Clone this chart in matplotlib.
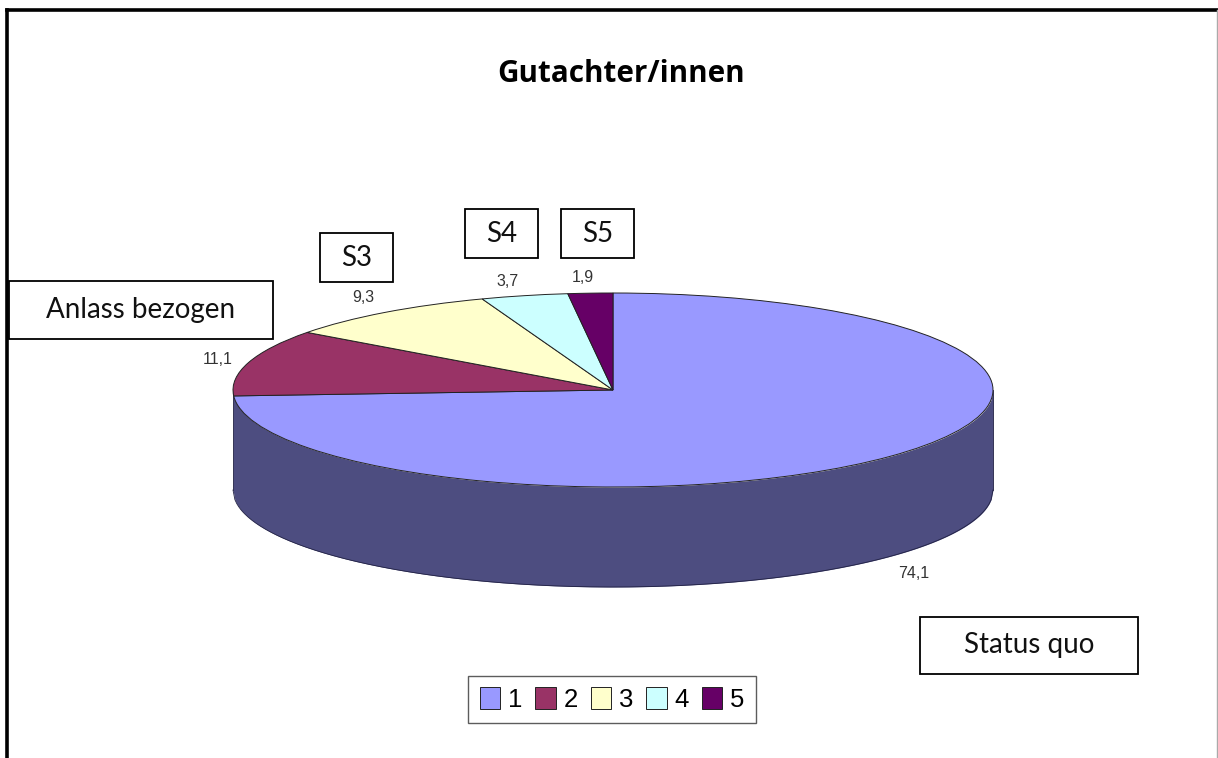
import matplotlib
matplotlib.use("Agg")
import matplotlib.pyplot as plt
from matplotlib.patches import Rectangle
import numpy as np

W, H = 1218, 758

title = "Gutachter/innen"
categories = ["1", "2", "3", "4", "5"]
values = [74.1, 11.1, 9.3, 3.7, 1.9]
value_labels = ["74,1", "11,1", "9,3", "3,7", "1,9"]
colors = ["#9999FF", "#993366", "#FFFFCC", "#CCFFFF", "#660066"]
wall_color = "#4D4D80"
callouts = ["Status quo", "Anlass bezogen", "S3", "S4", "S5"]

# pixel layout of the flattened pie
cx, cy, rx, ry, depth = 613, 390, 380, 97, 100
label_pos = [(914, 573), (218, 359), (363, 297), (508, 281), (583, 277)]
callout_box = [(920, 617, 218, 57), (9, 281, 264, 58), (320, 233, 73, 49),
               (465, 209, 73, 49), (561, 209, 73, 49)]

fig = plt.figure(figsize=(W / 100, H / 100), dpi=100)

# pie axes, one unit is one radius, so the circle comes out as an ellipse
ax = fig.add_axes([0, 0, 1, 1])
x = np.linspace(-1, 1, 400)
top = -np.sqrt(1 - x ** 2)
ax.fill_between(x, top, top - depth / ry, color=wall_color, lw=0, zorder=1)
ax.plot(x, top - depth / ry, color="#222244", lw=0.6, zorder=2)
ax.plot([-1, -1], [0, -depth / ry], color="#222244", lw=0.6, zorder=2)
ax.plot([1, 1], [0, -depth / ry], color="#222244", lw=0.6, zorder=2)
wedges, _ = ax.pie(values, colors=colors, startangle=90, counterclock=False,
                   radius=1, frame=True, normalize=True,
                   wedgeprops={"edgecolor": "#222222", "linewidth": 0.7, "zorder": 3})
ax.set_aspect("auto")
ax.set_xlim(-cx / rx, (W - cx) / rx)
ax.set_ylim((cy - H) / ry, cy / ry)
ax.axis("off")

# overlay in image pixels for the texts and boxes
ov = fig.add_axes([0, 0, 1, 1], zorder=5)
ov.set_xlim(0, W)
ov.set_ylim(H, 0)
ov.axis("off")
ov.patch.set_alpha(0)

# page border, open at the bottom
ov.plot([6.5, 6.5], [H, 9.5], color="black", lw=2.6, solid_joinstyle="miter")
ov.plot([6.5, W], [9.5, 9.5], color="black", lw=2.6)
ov.plot([1217, 1217], [10, H], color="#aaaaaa", lw=1)

ov.text(621, 74, title, ha="center", va="center", fontsize=21.3,
        fontweight="bold", family="Open Sans")

for txt, (lx, ly) in zip(value_labels, label_pos):
    ov.text(lx, ly, txt, ha="center", va="center", fontsize=11.5,
            family="Liberation Sans", color="#333333")

for txt, (bx, by, bw, bh) in zip(callouts, callout_box):
    ov.add_patch(Rectangle((bx, by), bw, bh, fc="white", ec="black", lw=1.3))
    ov.text(bx + bw / 2, by + bh / 2, txt, ha="center", va="center",
            fontsize=20, family="Lato", color="#111111")

leg = ov.legend(wedges, categories, ncol=5, loc="center",
                bbox_to_anchor=(612, 699.5), bbox_transform=ov.transData,
                frameon=True, fancybox=False, edgecolor="#333333",
                prop={"family": "Liberation Sans", "size": 18.5},
                handlelength=0.8, handleheight=0.9, handletextpad=0.3,
                columnspacing=0.5, borderpad=0.45, borderaxespad=0)
leg.get_frame().set_linewidth(1.0)

fig.savefig("out.png", dpi=100, facecolor="white")
